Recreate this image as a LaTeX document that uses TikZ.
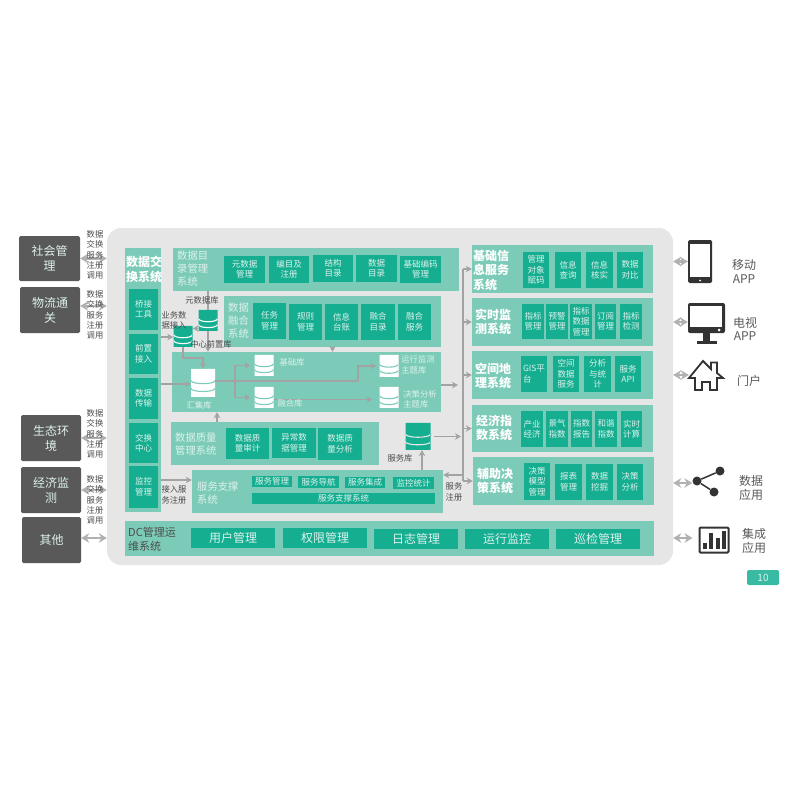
\documentclass[tikz,border=0pt]{standalone}
\usepackage{fontspec}
\setmainfont{Noto Sans CJK SC}
\definecolor{mygray}{HTML}{E6E6E6}
\definecolor{mydark}{HTML}{595959}
\definecolor{mypanel}{HTML}{7CCBB8}
\definecolor{myitem}{HTML}{16AE91}
\definecolor{mytext}{HTML}{DDF2ED}
\definecolor{myline}{HTML}{A3A3A3}
\definecolor{myicon}{HTML}{333333}
\usetikzlibrary{
  positioning, calc, shapes.geometric, arrows.meta
}
\tikzset{
	panelnode/.style 2 args={
			rectangle,
			fill=mypanel,
			minimum width=#1,
			minimum height=#2,
			inner sep=0pt
		},
	itemnode/.style 2 args={
			rectangle,
			fill=myitem,
			text=mytext,
			align=center,
			font=\fontsize{8.5}{10.5}\selectfont,
			minimum width=#1,
			minimum height=#2,
			inner sep=0pt
		},
	bigitemnode/.style={
			itemnode={84}{20},
			font=\fontsize{12}{14}\selectfont
		},
	darknode/.style={
			rectangle,
			rounded corners=1.5,
			fill=mydark,
			text=mytext,
			align=center,
			font=\fontsize{12}{15}\selectfont,
			minimum width=60,
			minimum height=46,
			inner sep=1pt
		},
	titlenode/.style={
			anchor=west,
			align=left,
			text=mytext,
			inner sep=0pt,
			font=\fontsize{10.3}{13}\selectfont
		},
	boldtitlenode/.style={
			titlenode,
			text=white,
			font=\fontsize{12}{14.5}\selectfont\bfseries
		},
	labelnode/.style={
			align=center,
			text=black!70,
			inner sep=0pt,
			font=\fontsize{8.3}{10.3}\selectfont
		},
	hublabelnode/.style={
			labelnode,
			text=mytext,
			align=left
		},
	sidenode/.style={
			align=center,
			text=black!65,
			inner sep=0pt,
			font=\fontsize{12}{13.5}\selectfont
		},
	dbnode/.style n args={4}{
			cylinder,
			shape border rotate=90,
			aspect=0.7,
			fill=#3,
			draw=none,
			minimum width=#1,
			minimum height=#2,
			inner sep=0pt,
			path picture={
				\foreach \k in {0.30,0.58}{
					\coordinate (pL) at ($(path picture bounding box.south west)!\k!(path picture bounding box.north west)$);
					\coordinate (pR) at ($(path picture bounding box.south east)!\k!(path picture bounding box.north east)$);
					\draw[#4, line width=1.1pt] (pL) .. controls ($(pL)+(1pt,-4pt)$) and ($(pR)+(-1pt,-4pt)$) .. (pR);
				}
			}
		},
	iconnode/.style={
			rectangle,
			fill=myicon,
			inner sep=0pt
		},
	flowline/.style={
			draw=myline,
			line width=1.5pt,
			-{Stealth[length=6pt,width=6.5pt]}
		},
	plainline/.style={
			draw=myline,
			line width=1.5pt
		},
	bothline/.style={
			draw=myline!85!white,
			line width=2.6pt,
			{Stealth[length=8pt,width=9.5pt]}-{Stealth[length=8pt,width=9.5pt]}
		}
}

\begin{document}
\begin{tikzpicture}[x=1pt, y=-1pt]
\useasboundingbox (0,0) rectangle (800,800);

\node[rectangle, rounded corners=14, fill=mygray, minimum width=566, minimum height=337] (tOuter) at (390,396.5) {};

\node[darknode, minimum width=61, minimum height=45] (tSocial) at (49.5,258.5) {社会管\\理};
\node[darknode] (tLogistics) at (50,310) {物流通\\关};
\node[darknode] (tEcology) at (51,438) {生态环\\境};
\node[darknode] (tEconomy) at (51,490) {经济监\\测};
\node[darknode, minimum width=59] (tOther) at (51.5,540) {其他};

\draw[bothline] (tSocial.east) -- (tSocial.east -| tOuter.west);
\draw[bothline] ([yshift=4pt]tLogistics.east) -- ([yshift=4pt]tLogistics.east -| tOuter.west);
\draw[bothline] (tEcology.east) -- (tEcology.east -| tOuter.west);
\draw[bothline] (tEconomy.east) -- (tEconomy.east -| tOuter.west);
\draw[bothline] ([yshift=2pt]tOther.east) -- ([yshift=2pt]tOther.east -| tOuter.west);

\node[labelnode] (tSideA) at (95,255) {数据\\交换\\服务\\注册\\调用};
\node[labelnode] (tSideB) at (95,315) {数据\\交换\\服务\\注册\\调用};
\node[labelnode] (tSideC) at (95,434) {数据\\交换\\服务\\注册\\调用};
\node[labelnode] (tSideD) at (95,500) {数据\\交换\\服务\\注册\\调用};

\node[panelnode={36}{264}] (tExchange) at (143,380) {};
\node[boldtitlenode] (tExchangeT) at (126,269.5) {数据交\\换系统};
\node[itemnode={29}{41}] (tBridge) at (143.5,309.5) {桥接\\工具};
\node[itemnode={29}{40}] (tFront) at (143.5,354) {前置\\接入};
\node[itemnode={29}{41}] (tTransfer) at (143.5,398.5) {数据\\传输};
\node[itemnode={29}{40}] (tCenter) at (143.5,443) {交换\\中心};
\node[itemnode={29}{42}] (tWatch) at (143.5,487) {监控\\管理};

\node[panelnode={286}{43}] (tCatalog) at (316,269.5) {};
\node[titlenode] (tCatalogT) at (177,269) {数据目\\录管理\\系统};
\node[itemnode={41}{27}] (tCatA) at (244.5,269.5) {元数据\\管理};
\node[itemnode={40}{27}] (tCatB) at (289,269.5) {编目及\\注册};
\node[itemnode={40}{27}] (tCatC) at (333,268.5) {结构\\目录};
\node[itemnode={41}{27}] (tCatD) at (376.5,268.5) {数据\\目录};
\node[itemnode={41}{27}] (tCatE) at (420.5,269) {基础编码\\管理};

\node[panelnode={217}{51}] (tMerge) at (332.5,321.5) {};
\node[titlenode] (tMergeT) at (228,321) {数据\\融合\\系统};
\node[itemnode={33}{36}] (tMergeA) at (269.5,321) {任务\\管理};
\node[itemnode={33}{36}] (tMergeB) at (305.5,322) {规则\\管理};
\node[itemnode={33}{36}] (tMergeC) at (341.5,322) {信息\\台账};
\node[itemnode={34}{36}] (tMergeD) at (378,322) {融合\\目录};
\node[itemnode={33}{36}] (tMergeE) at (414.5,322) {融合\\服务};

\node[panelnode={269}{60}] (tHubPanel) at (306.5,382) {};
\node[panelnode={208}{43}] (tQuality) at (274.5,443.5) {};
\node[titlenode] (tQualityT) at (175,444) {数据质量\\管理系统};
\node[itemnode={43}{31}] (tQualA) at (247.5,443.5) {数据质\\量审计};
\node[itemnode={44}{30}] (tQualB) at (294,443) {异常数\\据管理};
\node[itemnode={44}{32}] (tQualC) at (340,444) {数据质\\量分析};

\node[panelnode={251}{43}] (tService) at (317.5,491.5) {};
\node[titlenode] (tServiceT) at (197,493) {服务支撑\\系统};
\node[itemnode={40}{11}] (tSerA) at (272,481.5) {服务管理};
\node[itemnode={41}{12}] (tSerB) at (318.5,482) {服务导航};
\node[itemnode={40}{11}] (tSerC) at (365,482.5) {服务集成};
\node[itemnode={41}{12}] (tSerD) at (413.5,483) {监控统计};
\node[itemnode={183}{11}] (tSerE) at (343.5,498.5) {服务支撑系统};

\node[panelnode={529}{35}] (tOps) at (389.5,538.5) {};
\node[titlenode, text=black!70, font=\fontsize{11}{14}\selectfont] (tOpsT) at (128,539) {DC管理运\\维系统};
\node[bigitemnode] (tOpsA) at (233,538) {用户管理};
\node[bigitemnode] (tOpsB) at (325,537.5) {权限管理};
\node[bigitemnode] (tOpsC) at (416,538.5) {日志管理};
\node[bigitemnode] (tOpsD) at (507,538.5) {运行监控};
\node[bigitemnode] (tOpsE) at (598,538.5) {巡检管理};

\node[panelnode={181}{48}] (tBaseInfo) at (562.5,269) {};
\node[boldtitlenode] (tBaseInfoT) at (473,270) {基础信\\息服务\\系统};
\node[itemnode={26}{36}] (tBaseA) at (536,270) {管理\\对象\\赋码};
\node[itemnode={26}{36}] (tBaseB) at (568,270) {信息\\查询};
\node[itemnode={27}{36}] (tBaseC) at (599.5,270) {信息\\核实};
\node[itemnode={26}{36}] (tBaseD) at (630,270) {数据\\对比};

\node[panelnode={181}{48}] (tRealtime) at (562.5,322) {};
\node[boldtitlenode] (tRealtimeT) at (475,322) {实时监\\测系统};
\node[itemnode={22}{35}] (tRealA) at (533,321.5) {指标\\管理};
\node[itemnode={22}{35}] (tRealB) at (557,321.5) {预警\\管理};
\node[itemnode={22}{35}] (tRealC) at (581,321.5) {指标\\数据\\管理};
\node[itemnode={21}{35}] (tRealD) at (605.5,321.5) {订阅\\管理};
\node[itemnode={22}{35}] (tRealE) at (631,321.5) {指标\\检测};

\node[panelnode={181}{48}] (tSpace) at (562.5,375) {};
\node[boldtitlenode] (tSpaceT) at (475,376) {空间地\\理系统};
\node[itemnode={26}{36}, align=left] (tSpaceA) at (534,374) {GIS平\\台};
\node[itemnode={26}{36}] (tSpaceB) at (566,374) {空间\\数据\\服务};
\node[itemnode={27}{36}] (tSpaceC) at (597.5,374) {分析\\与统\\计};
\node[itemnode={26}{36}] (tSpaceD) at (628,374) {服务\\API};

\node[panelnode={181}{47}] (tIndex) at (562.5,428.5) {};
\node[boldtitlenode] (tIndexT) at (476,428) {经济指\\数系统};
\node[itemnode={22}{36}] (tIndexA) at (532,429) {产业\\经济};
\node[itemnode={22}{36}] (tIndexB) at (557,429) {景气\\指数};
\node[itemnode={21}{36}] (tIndexC) at (581.5,429) {指数\\报告};
\node[itemnode={22}{36}] (tIndexD) at (606,429) {和谐\\指数};
\node[itemnode={21}{36}] (tIndexE) at (631.5,429) {实时\\计算};

\node[panelnode={181}{48}] (tDecision) at (563.5,481) {};
\node[boldtitlenode] (tDecisionT) at (477,481) {辅助决\\策系统};
\node[itemnode={26}{37}] (tDecA) at (537,481.5) {决策\\模型\\管理};
\node[itemnode={27}{36}] (tDecB) at (568.5,482) {报表\\管理};
\node[itemnode={27}{36}] (tDecC) at (599.5,482) {数据\\挖掘};
\node[itemnode={26}{36}] (tDecD) at (630,482) {决策\\分析};

\node[dbnode={19}{21}{myitem}{white}] (tMetaDb) at (208,320.5) {};
\node[dbnode={19}{21}{myitem}{white}] (tFrontDb) at (183,336.5) {};
\node[dbnode={24}{28}{white}{mypanel}] (tHubDb) at (203,383) {};
\node[dbnode={19}{21}{white}{mypanel}] (tBaseDb) at (264,365.5) {};
\node[dbnode={19}{21}{white}{mypanel}] (tFuseDb) at (264,397.5) {};
\node[dbnode={19}{22}{white}{mypanel}] (tRunDb) at (389,366) {};
\node[dbnode={19}{21}{white}{mypanel}] (tPlanDb) at (389,397.5) {};
\node[dbnode={25}{27}{myitem}{mygray}] (tServiceDb) at (418,436.5) {};

\coordinate (jTrunk) at (463,376);
\coordinate (jHub) at (235,381);
\coordinate (jRun) at (358,381);
\coordinate (jFront) at (183,358);
\coordinate (jQuality) at (217,417);
\coordinate (jServiceIn) at (463,475);

\draw[flowline, shorten >=3pt] ([yshift=2pt]tHubDb.east) -- (jRun) |- (tRunDb.west);
\draw[flowline, shorten >=4pt] (jHub) |- (tBaseDb.west);
\draw[flowline, shorten >=4pt] (jHub) |- (tFuseDb.west);
\draw[flowline, shorten >=7pt] ([yshift=-2pt]tFuseDb.east) -- ([yshift=-2pt]tFuseDb.east -| tPlanDb.west);
\draw[flowline] (tFrontDb.south) -- (jFront) -| (tHubDb.north);
\draw[flowline] ([yshift=14.5pt]tTransfer.east -| tExchange.east) -- ([yshift=14.5pt]tTransfer.east -| tHubDb.west);
\draw[flowline] ([yshift=17pt]tFront.east -| tExchange.east) -- ([yshift=17pt]tFront.east -| tFrontDb.west);
\draw[plainline] (tCatalog.south -| tMetaDb.north) -- (tMetaDb.north);
\draw[flowline] (tMetaDb.south) -- (tMetaDb.south |- tHubPanel.north);
\draw[flowline] ([yshift=-8pt]tMetaDb.west) -- ([yshift=-8pt]tMetaDb.west -| tFrontDb.east);
\draw[flowline] (tMerge.south) -- (tHubPanel.north -| tMerge.south);
\draw[flowline] (tQuality.north -| jQuality) -- (tHubPanel.south -| jQuality);
\draw[flowline, shorten >=5pt] ([yshift=-3pt]tHubPanel.east) -- ([yshift=-3pt]tHubPanel.east -| jTrunk);
\draw[flowline] ([yshift=7pt]tWatch.east -| tExchange.east) -- ([yshift=7pt]tWatch.east -| tService.west);
\draw[flowline] ([xshift=4pt]tService.north -| tServiceDb.south) -- ([xshift=4pt]tServiceDb.south);
\draw[flowline, shorten <=3pt, shorten >=2pt] (tServiceDb.east) -- (tServiceDb.east -| jTrunk);
\draw[flowline] (jServiceIn) -- (jServiceIn -| tService.east);

\draw[plainline] (tBaseInfo.west -| jTrunk) -- (tDecision.west -| jTrunk);
\draw[flowline] (tBaseInfo.west -| jTrunk) -- (tBaseInfo.west);
\draw[flowline] (tRealtime.west -| jTrunk) -- (tRealtime.west);
\draw[flowline] (tSpace.west -| jTrunk) -- (tSpace.west);
\draw[flowline] (tIndex.west -| jTrunk) -- (tIndex.west);
\draw[flowline] (tDecision.west -| jTrunk) -- (tDecision.west);

\node[labelnode] (tMetaL) at (202,300) {元数据库};
\node[labelnode] (tFrontL) at (211,344) {中心前置库};
\node[labelnode, align=left] (tBizL) at (174,320) {业务数\\据接入};
\node[hublabelnode] (tHubL) at (199,405) {汇集库};
\node[hublabelnode] (tBaseL) at (292,362) {基础库};
\node[hublabelnode] (tFuseL) at (290,403) {融合库};
\node[hublabelnode] (tRunL) at (418,365) {运行监测\\主题库};
\node[hublabelnode] (tPlanL) at (420,399) {决策分析\\主题库};
\node[labelnode] (tServiceL) at (400,458) {服务库};
\node[labelnode, align=left] (tInL) at (174,495) {接入服\\务注册};
\node[labelnode] (tRegL) at (454,492) {服务\\注册};

\node[iconnode, rounded corners=1.5, minimum width=24, minimum height=43] (iPhone) at (700,261.5) {};
\node[rectangle, fill=white, minimum width=20, minimum height=33, inner sep=0pt] (iPhoneS) at (700,260) {};
\node[circle, fill=white, minimum size=2, inner sep=0pt] (iPhoneB) at (700,280.5) {};
\node[iconnode, rounded corners=2, minimum width=37, minimum height=30] (iTv) at (706.5,318) {};
\node[rectangle, fill=white, minimum width=32, minimum height=21, inner sep=0pt] (iTvS) at (706,316.5) {};
\node[circle, fill=white, minimum size=3, inner sep=0pt] (iTvB) at (719,330) {};
\node[iconnode, minimum width=7, minimum height=8] (iTvN) at (706.5,337) {};
\node[iconnode, minimum width=20, minimum height=3.5] (iTvF) at (706.5,342.5) {};
\node[rectangle, minimum width=34, minimum height=30, inner sep=0pt] (iHome) at (706,375) {};
\draw[myicon, line width=1.8pt, line join=miter] (689,378) -- (703,361) -- (711,369) -- (711,362.5) -- (717,362.5) -- (717,373) -- (723,378) -- (717,378) -- (717,390) -- (710,390) -- (710,382) -- (702,382) -- (702,390) -- (695,390) -- (695,378) -- cycle;
\node[circle, fill=myicon, minimum size=9, inner sep=0pt] (iShareA) at (697,481) {};
\node[circle, fill=myicon, minimum size=9, inner sep=0pt] (iShareB) at (720,471) {};
\node[circle, fill=myicon, minimum size=9, inner sep=0pt] (iShareC) at (714,492) {};
\draw[myicon, line width=1.5pt] (iShareA) -- (iShareB);
\draw[myicon, line width=1.5pt] (iShareA) -- (iShareC);
\node[rectangle, draw=myicon, line width=2pt, rounded corners=1, minimum width=29, minimum height=25, inner sep=0pt] (iChart) at (714,540) {};
\node[iconnode, minimum width=4, minimum height=6] (iBarA) at (705,546) {};
\node[iconnode, minimum width=4, minimum height=16] (iBarB) at (711,541) {};
\node[iconnode, minimum width=4, minimum height=11] (iBarC) at (717.5,543.5) {};
\node[iconnode, minimum width=4, minimum height=18] (iBarD) at (724,540) {};

\draw[bothline] (iPhone.west -| tOuter.east) -- (iPhone.west);
\draw[bothline] ([yshift=-4pt]iTv.west -| tOuter.east) -- ([yshift=-4pt]iTv.west);
\draw[bothline] (iHome.west -| tOuter.east) -- (iHome.west);
\draw[bothline] ([yshift=-2pt]iShareA.west -| tOuter.east) -- ([yshift=-2pt]iShareA.west);
\draw[bothline, shorten >=6pt] ([yshift=2pt]iChart.west -| tOuter.east) -- ([yshift=2pt]iChart.west);

\node[sidenode] (tAppA) at (744,271.5) {移动\\APP};
\node[sidenode] (tAppB) at (745,329) {电视\\APP};
\node[sidenode] (tAppC) at (749,381) {门户};
\node[sidenode] (tAppD) at (751,488) {数据\\应用};
\node[sidenode] (tAppE) at (754,541) {集成\\应用};

\node[rectangle, rounded corners=1.5, fill=myitem!85!white, text=mytext, minimum width=32, minimum height=15, inner sep=0pt, font=\fontsize{10}{12}\selectfont] (tPage) at (763,577.5) {10};

\end{tikzpicture}
\end{document}
